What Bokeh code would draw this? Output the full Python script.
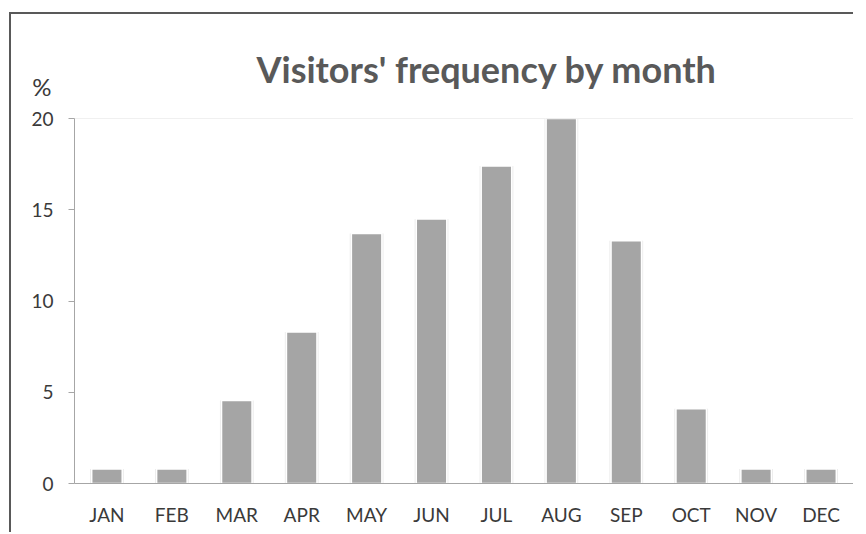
from bokeh.plotting import figure
from bokeh.models import FactorRange, Range1d, FixedTicker
from bokeh.embed import file_html
from bokeh.resources import INLINE

months = ["JAN", "FEB", "MAR", "APR", "MAY", "JUN", "JUL", "AUG", "SEP", "OCT", "NOV", "DEC"]
visitors_pct = [0.8, 0.8, 4.55, 8.3, 13.7, 14.5, 17.4, 20.0, 13.3, 4.1, 0.8, 0.8]
y_ticks = [0, 5, 10, 15, 20]

W, H = 844, 520
FONT = "Lato"

p = figure(width=W, height=H, x_range=FactorRange(*months, range_padding=0),
           y_range=Range1d(0, 20), output_backend="svg", toolbar_location=None,
           title="Visitors' frequency by month",
           min_border_left=63, min_border_right=2, min_border_top=104, min_border_bottom=51)
p.styles = {"border-left": "2px solid #595959", "border-top": "2px solid #595959",
            "margin-left": "9px", "margin-top": "12px"}

p.title.text_font = FONT
p.title.text_font_style = "bold"
p.title.text_font_size = "36px"
p.title.text_color = "#595959"
p.title.align = "left"
p.title.offset = 182
p.title.standoff = 55

p.vbar(x=months, top=visitors_pct, width=0.52, fill_color="#ebebeb", line_color=None)
p.vbar(x=months, top=visitors_pct, width=0.47, fill_color="#a5a5a5",
       line_color="#ffffff", line_width=1.5)

p.xgrid.grid_line_color = None
p.ygrid.grid_line_color = None
p.outline_line_color = "#f0f0f0"
p.background_fill_color = "white"
p.border_fill_color = "white"

p.yaxis.ticker = FixedTicker(ticks=y_ticks)
p.yaxis.minor_tick_line_color = None
p.yaxis.major_tick_in = 0
p.yaxis.major_tick_out = 6
p.yaxis.axis_line_color = "#a6a6a6"
p.yaxis.major_tick_line_color = "#a6a6a6"
p.yaxis.major_label_standoff = 15
p.yaxis.axis_label = "%\n \n "
p.yaxis.axis_label_orientation = "horizontal"
p.yaxis.axis_label_align = "end"
p.yaxis.axis_label_standoff = -23
p.yaxis.axis_label_text_baseline = "bottom"
p.yaxis.axis_label_text_line_height = 1.1
p.yaxis.axis_label_text_font = FONT
p.yaxis.axis_label_text_font_style = "normal"
p.yaxis.axis_label_text_font_size = "24px"
p.yaxis.axis_label_text_color = "#3a3a3a"
for ax in (p.xaxis, p.yaxis):
    ax[0].major_label_text_font = FONT
    ax[0].major_label_text_font_size = "19px"
    ax[0].major_label_text_color = "#3a3a3a"

p.xaxis.axis_line_color = "#a6a6a6"
p.xaxis.major_tick_line_color = None
p.xaxis.major_label_standoff = 13

open("out.html", "w").write(file_html(p, INLINE))
